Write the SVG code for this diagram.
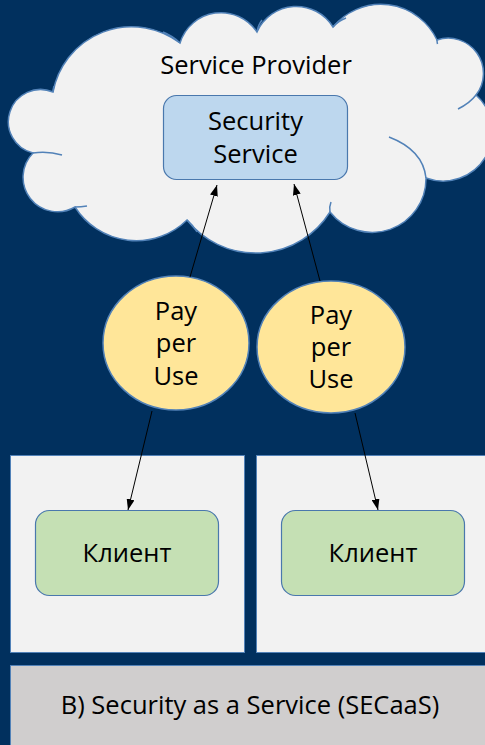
<svg xmlns="http://www.w3.org/2000/svg" width="485" height="745" viewBox="0 0 485 745">
<defs>
<style>
.t{font-family:"Open Sans","Noto Sans","Liberation Sans",sans-serif;font-size:25.5px;fill:#000;text-anchor:middle}
.cl{fill:#f2f2f2;stroke:#5282b8;stroke-width:1.5}
.inner{fill:none;stroke:#5282b8;stroke-width:1.5}
.pay{fill:#ffe699;stroke:#5282b8;stroke-width:1.5}
.panel{fill:#f2f2f2;stroke:#5282b8;stroke-width:1}
.client{fill:#c5e0b4;stroke:#4a78ad;stroke-width:1.2}
.conn{stroke:#000;stroke-width:1;fill:none;marker-end:url(#ah)}
</style>
<marker id="ah" markerUnits="userSpaceOnUse" markerWidth="11" markerHeight="8" refX="11" refY="4" orient="auto">
<path d="M0,0 L11,4 L0,8 z" fill="#000"/>
</marker>
</defs>
<rect x="0" y="0" width="485" height="745" fill="#01305e"/>
<g id="cloud">
<path class="cl" d="M53,92 A80,80 0 0 1 180,43 A43,43 0 0 1 257,32 A43,43 0 0 1 333,27 A62,62 0 0 1 437,40 A35.2,35.2 0 0 1 476,95 A49.3,49.3 0 0 1 426,178 A53.8,53.8 0 0 1 330,212 A87.8,87.8 0 0 1 187,220 A72.5,72.5 0 0 1 75,207 A34.5,34.5 0 0 1 33,153 A32.2,32.2 0 1 1 53,92 Z"/>
<path class="inner" d="M33,153 Q48,151 62,155"/>
<path class="inner" d="M75,207 Q81,207 87,206"/>
<path class="inner" d="M163,32 Q173,36 180,43"/>
<path class="inner" d="M257,32 Q258,25 262,20"/>
<path class="inner" d="M333,27 Q338,21 346,18"/>
<path class="inner" d="M437,40 Q437,42 437.5,44"/>
<path class="inner" d="M476,95 Q470,103 458,109"/>
<path class="inner" d="M426,178 Q423,150 389,137"/>
<path class="inner" d="M330,212 Q329,207 331,202"/>
<path class="inner" d="M187,220 Q193,225 197,232"/>
<path class="inner" d="M53,92 Q53,89 54,86"/>
<text class="t" x="256" y="74">Service Provider</text>
</g>
<g id="security-service">
<rect x="163.5" y="95.5" width="184" height="84" rx="13" fill="#bdd7ee" stroke="#4a78ad" stroke-width="1.2"/>
<text class="t" x="255.5" y="130">Security</text>
<text class="t" x="255.5" y="163">Service</text>
</g>
<g id="client-panel-1">
<rect class="panel" x="10.5" y="455.5" width="234" height="197"/>
</g>
<g id="client-panel-2">
<rect class="panel" x="256.5" y="455.5" width="232" height="197"/>
</g>
<g id="pay-per-use-1">
<ellipse class="pay" cx="176" cy="343" rx="73" ry="67"/>
<text class="t" x="176" y="320">Pay</text>
<text class="t" x="176" y="352">per</text>
<text class="t" x="176" y="385">Use</text>
</g>
<g id="pay-per-use-2">
<ellipse class="pay" cx="331" cy="347" rx="74" ry="66"/>
<text class="t" x="331" y="324">Pay</text>
<text class="t" x="331" y="356">per</text>
<text class="t" x="331" y="388">Use</text>
</g>
<g id="client-1">
<rect class="client" x="35.5" y="510.5" width="183" height="85" rx="14"/>
<text class="t" x="127" y="562">Клиент</text>
</g>
<g id="client-2">
<rect class="client" x="281.5" y="510.5" width="183" height="85" rx="14"/>
<text class="t" x="373" y="562">Клиент</text>
</g>
<g id="caption">
<rect x="10.5" y="665.5" width="478" height="82" fill="#d0cece" stroke="#5282b8" stroke-width="1"/>
<text class="t" x="250" y="714">B) Security as a Service (SECaaS)</text>
</g>
<g id="connectors">
<line class="conn" x1="190" y1="277" x2="217" y2="185"/>
<line class="conn" x1="320" y1="281" x2="294" y2="184"/>
<line class="conn" x1="152" y1="411" x2="128" y2="510"/>
<line class="conn" x1="355" y1="413" x2="378" y2="510"/>
</g>
</svg>
